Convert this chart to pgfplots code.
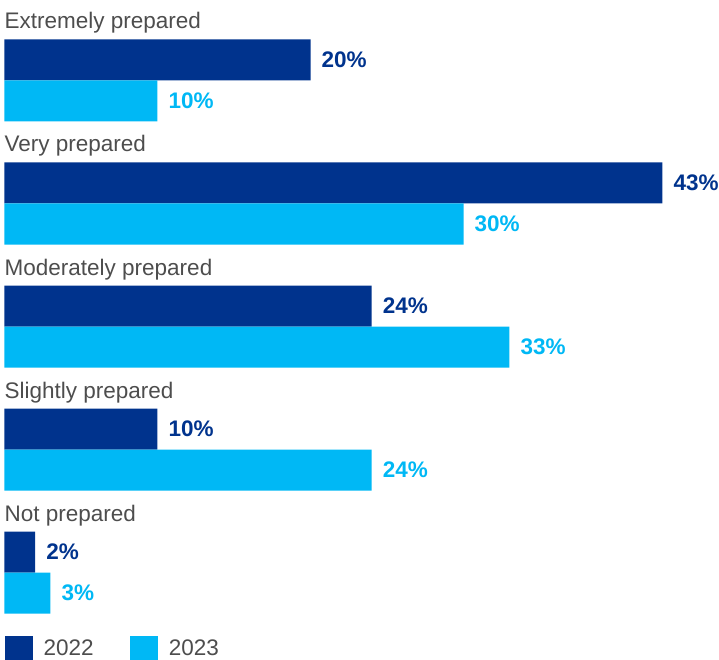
\documentclass[border=0pt]{standalone}
\usepackage{pgfplots}
\pgfplotsset{compat=1.18}
\usepackage{fontspec}
\setmainfont{Liberation Sans}

\definecolor{kdark}{HTML}{00338D}
\definecolor{klight}{HTML}{00B8F5}
\definecolor{ktext}{HTML}{4D4D4D}

\begin{document}
\begin{tikzpicture}
\begin{axis}[
    width=719pt, height=660pt, scale only axis,
    xmin=-0.294, xmax=46.70,
    ymin=0, ymax=660, y dir=reverse,
    axis line style={draw=none},
    xtick=\empty, ytick=\empty,
    clip=false,
    xbar, bar width=41, bar shift=0pt,
    point meta=x,
    /pgf/number format/assume math mode=true,
    nodes near coords={\pgfmathprintnumber{\pgfplotspointmeta}\%},
    every node near coord/.append style={anchor=west, inner sep=0pt, xshift=11pt,
        font=\fontsize{22.5}{26}\selectfont\bfseries},
    legend image code/.code={\fill[#1] (0pt,-12pt) rectangle (28pt,12pt);},
    legend style={at={(axis cs:0,648)}, anchor=west, draw=none, fill=none,
        inner sep=0pt, legend columns=2, text=ktext,
        font=\fontsize{22.5}{26}\selectfont,
        nodes={inner sep=0pt},
        /tikz/every odd column/.append style={column sep=11pt},
        /tikz/every even column/.append style={column sep=36pt}},
    legend cell align=left,
]
% 2022
\addplot[fill=kdark, draw=none, every node near coord/.append style={text=kdark}]
    coordinates {(20,60) (43,183) (24,306) (10,429) (2,552)};
\addlegendentry{2022}
% 2023
\addplot[fill=klight, draw=none, every node near coord/.append style={text=klight}]
    coordinates {(10,101) (30,224) (33,347) (24,470) (3,593)};
\addlegendentry{2023}

\begin{scope}[every node/.style={anchor=base west, inner sep=0pt, text=ktext,
        font=\fontsize{22.5}{26}\selectfont}]
\node at (axis cs:0,29)  {Extremely prepared};
\node at (axis cs:0,152) {Very prepared};
\node at (axis cs:0,275) {Moderately prepared};
\node at (axis cs:0,398) {Slightly prepared};
\node at (axis cs:0,521) {Not prepared};
\end{scope}
\end{axis}
\end{tikzpicture}
\end{document}
